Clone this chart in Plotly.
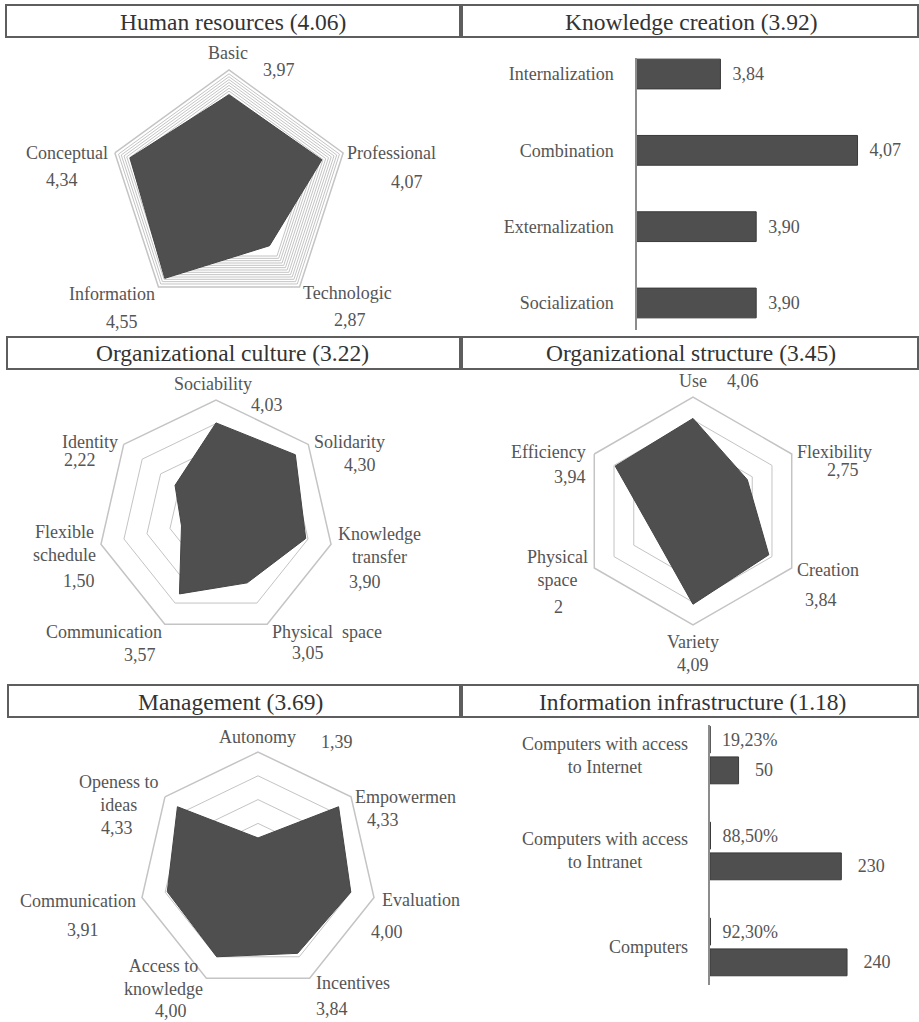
import numpy as np
import plotly.graph_objects as go

W, H = 919, 1022

# ---------------- data ----------------
hr_cats = ["Basic", "Professional", "Technologic", "Information", "Conceptual"]
hr_vals = [3.97, 4.07, 2.87, 4.55, 4.34]

kc_cats = ["Internalization", "Combination", "Externalization", "Socialization"]
kc_vals = [3.84, 4.07, 3.90, 3.90]

oc_cats = ["Sociability", "Solidarity", "Knowledge<br>transfer", "Physical\u00a0\u00a0space",
           "Communication", "Flexible<br>schedule", "Identity"]
oc_vals = [4.03, 4.30, 3.90, 3.05, 3.57, 1.50, 2.22]

os_cats = ["Use", "Flexibility", "Creation", "Variety", "Physical<br>space", "Efficiency"]
os_vals = [4.06, 2.75, 3.84, 4.09, 2, 3.94]

mg_cats = ["Autonomy", "Empowermen", "Evaluation", "Incentives", "Access to<br>knowledge",
           "Communication", "Openess to<br>ideas"]
mg_vals = [1.39, 4.33, 4.00, 3.84, 4.00, 3.91, 4.33]

ii_cats = ["Computers with access<br>to Internet", "Computers with access<br>to Intranet", "Computers"]
ii_counts = [50, 230, 240]
ii_pcts = [19.23, 88.50, 92.30]

titles = ["Human resources (4.06)", "Knowledge creation (3.92)",
          "Organizational culture (3.22)", "Organizational structure (3.45)",
          "Management (3.69)", "Information infrastructure (1.18)"]

# ---------------- style ----------------
SERIF = "'Liberation Serif', Tinos, 'Times New Roman', 'DejaVu Serif', serif"
LBL_COLOR = "#555555"
TITLE_COLOR = "#333333"
FILL = "#4f4f4f"
RING = "#c4c4c4"
LFS = 18


def fmt(v):
    if isinstance(v, int):
        return str(v)
    return f"{v:.2f}".replace(".", ",")


def px(x, y):
    return x / W, 1 - y / H


def pdomain(cx, cy, R):
    return dict(x=[(cx - R) / W, (cx + R) / W], y=[1 - (cy + R) / H, 1 - (cy - R) / H])


# label positions (pixel centres) for radar category names and values
LABEL_POS = {
    "hr": {"cat": [(228, 53), (391, 153), (347, 293), (112, 294), (67, 153)],
           "val": [(279, 70), (407, 182), (350, 320), (122, 322), (62, 180)]},
    "oc": {"cat": [(213, 384), (349, 442), (379, 545), (327, 632), (104, 632), (64, 543), (90, 442)],
           "val": [(267, 405), (360, 465), (365, 582), (308, 653), (140, 655), (79, 581), (80, 460)]},
    "os": {"cat": [(693, 381), (834, 452), (828, 570), (693, 642), (557, 568), (548, 452)],
           "val": [(743, 381), (843, 470), (821, 600), (693, 665), (558, 607), (570, 477)]},
    "mg": {"cat": [(257, 737), (353, 797, "left"), (421, 900), (353, 983), (163, 977), (78, 901), (119, 793)],
           "val": [(337, 742), (383, 820), (387, 932), (332, 1009), (171, 1011), (83, 930), (117, 828)]},
}

RADARS = [
    ("hr", "polar", hr_cats, hr_vals, (229, 190, 120), list(np.arange(3.4, 4.95, 0.12))),
    ("oc", "polar2", oc_cats, oc_vals, (216, 518, 118), [1, 2, 3, 4]),
    ("os", "polar3", os_cats, os_vals, (693, 511, 114), [1, 2, 3, 4]),
    ("mg", "polar4", mg_cats, mg_vals, (258, 871, 119), [1, 2, 3, 4]),
]

fig = go.Figure()
annotations = []
shapes = []
layout = {}

for key, sub, cats, vals, (cx, cy, R), rings in RADARS:
    fig.add_trace(go.Scatterpolar(
        r=vals + [vals[0]], theta=cats + [cats[0]], subplot=sub,
        mode="lines", fill="toself", fillcolor=FILL,
        line=dict(color="#454545", width=1), hoverinfo="skip"))
    layout[sub] = dict(
        domain=pdomain(cx, cy, R), bgcolor="rgba(0,0,0,0)", gridshape="linear",
        angularaxis=dict(rotation=90, direction="clockwise", showticklabels=False, ticks="",
                         showgrid=False, showline=True, linecolor=RING, linewidth=1.5,
                         categoryarray=cats, type="category"),
        radialaxis=dict(range=[0, 5], tickvals=rings, showticklabels=False, ticks="",
                        showline=False, gridcolor=RING, gridwidth=1.3),
    )
    for i, c in enumerate(cats):
        p = LABEL_POS[key]["cat"][i]
        xa = p[2] if len(p) > 2 else "center"
        x, y = px(p[0], p[1])
        annotations.append(dict(text=c, x=x, y=y, xref="paper", yref="paper", showarrow=False,
                                xanchor=xa, yanchor="middle", align="center",
                                font=dict(family=SERIF, size=LFS, color=LBL_COLOR)))
        p = LABEL_POS[key]["val"][i]
        x, y = px(p[0], p[1])
        annotations.append(dict(text=fmt(vals[i]), x=x, y=y, xref="paper", yref="paper",
                                showarrow=False, xanchor="center", yanchor="middle",
                                font=dict(family=SERIF, size=LFS, color=LBL_COLOR)))

# ---------------- knowledge creation bars ----------------
fig.add_trace(go.Bar(
    x=kc_vals, y=kc_cats, orientation="h", xaxis="x", yaxis="y", width=0.39,
    marker=dict(color=FILL, line=dict(color="#3a3a3a", width=1)),
    text=["\u00a0\u00a0" + fmt(v) for v in kc_vals], textposition="outside",
    constraintext="none", textfont=dict(family=SERIF, size=LFS, color=LBL_COLOR),
    hoverinfo="skip"))

kx0 = 637
kscale = 596.0
layout["xaxis"] = dict(domain=[kx0 / W, (kx0 + 0.47 * kscale) / W], range=[3.7, 4.17],
                       visible=False, anchor="y", fixedrange=True)
layout["yaxis"] = dict(domain=[1 - 330 / H, 1 - 58 / H], type="category",
                       categoryarray=kc_cats, range=[3.354, -0.21], anchor="x",
                       showline=True, linecolor="#8c8c8c", linewidth=1.5, ticks="",
                       showgrid=False, zeroline=False, ticklabelstandoff=18,
                       tickfont=dict(family=SERIF, size=LFS, color=LBL_COLOR))

# ---------------- information infrastructure bars ----------------
fig.add_trace(go.Bar(
    x=[p / 100 for p in ii_pcts], y=ii_cats, orientation="h", xaxis="x2", yaxis="y2",
    width=0.28, offset=-0.30,
    marker=dict(color=FILL, line=dict(color="#3a3a3a", width=1)),
    text=["\u00a0\u00a0" + fmt(v) + "%" for v in ii_pcts], textposition="outside",
    constraintext="none", textfont=dict(family=SERIF, size=LFS, color=LBL_COLOR),
    hoverinfo="skip"))
fig.add_trace(go.Bar(
    x=ii_counts, y=ii_cats, orientation="h", xaxis="x2", yaxis="y2",
    width=0.28, offset=0.02,
    marker=dict(color=FILL, line=dict(color="#3a3a3a", width=1)),
    text=["\u00a0\u00a0\u00a0" + str(v) for v in ii_counts], textposition="outside",
    constraintext="none", textfont=dict(family=SERIF, size=LFS, color=LBL_COLOR),
    hoverinfo="skip"))

ix0 = 710
iscale = 0.571
layout["xaxis2"] = dict(domain=[ix0 / W, (ix0 + 360 * iscale) / W], range=[0, 360],
                        visible=False, anchor="y2", fixedrange=True)
layout["yaxis2"] = dict(domain=[1 - 985 / H, 1 - 725 / H], type="category",
                        categoryarray=ii_cats, range=[2.396, -0.3125], anchor="x2",
                        showline=True, linecolor="#8c8c8c", linewidth=1.5, ticks="",
                        showgrid=False, zeroline=False, showticklabels=False)
for c in ii_cats:
    annotations.append(dict(text=c, x=690 / W, y=c, xref="paper", yref="y2", showarrow=False,
                            xanchor="right", yanchor="middle", align="center",
                            font=dict(family=SERIF, size=LFS, color=LBL_COLOR)))

# ---------------- title boxes ----------------
BOXES = [((6, 5, 460, 37), 233, 22), ((462, 5, 918, 37), 691, 22),
         ((7, 337, 460, 369), 233, 353), ((462, 337, 918, 369), 691, 353),
         ((8, 685, 460, 717), 230, 702), ((462, 685, 918, 717), 692, 702)]
for (t, ((x0, y0, x1, y1), tx, ty)) in zip(titles, BOXES):
    a0, b0 = px(x0, y1)
    a1, b1 = px(x1, y0)
    shapes.append(dict(type="rect", xref="paper", yref="paper", x0=a0, y0=b0, x1=a1, y1=b1,
                       line=dict(color="#5e5e5e", width=2), fillcolor="white", layer="below"))
    x, y = px(tx, ty)
    annotations.append(dict(text=t, x=x, y=y, xref="paper", yref="paper", showarrow=False,
                            xanchor="center", yanchor="middle",
                            font=dict(family=SERIF, size=23.5, color=TITLE_COLOR)))

fig.update_layout(
    width=W, height=H, margin=dict(l=0, r=0, t=0, b=0, pad=0),
    paper_bgcolor="white", plot_bgcolor="rgba(0,0,0,0)", showlegend=False,
    barmode="overlay", annotations=annotations, shapes=shapes,
    font=dict(family=SERIF), **layout)

fig.write_html("out.html", config={"displayModeBar": False},
               post_script="document.body.style.margin='0';document.body.style.overflow='hidden';")
